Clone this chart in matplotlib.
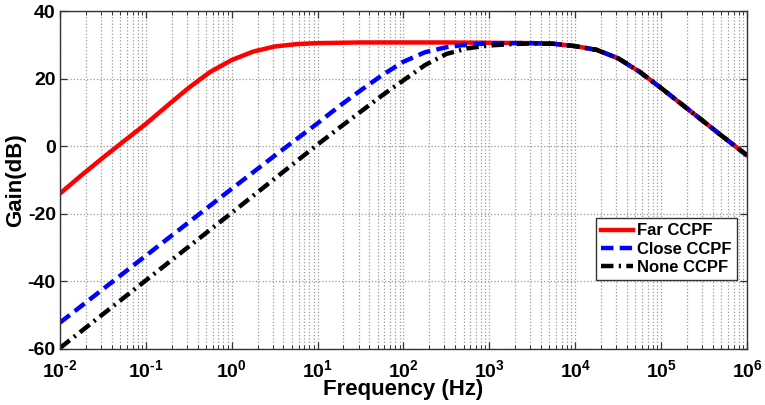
import numpy as np
import matplotlib
matplotlib.use('Agg')
import matplotlib.pyplot as plt
from matplotlib.ticker import LogLocator, FixedLocator, FuncFormatter

plt.rcParams['font.family'] = ['Liberation Sans', 'DejaVu Sans']
plt.rcParams['font.weight'] = 'bold'
plt.rcParams['axes.unicode_minus'] = False
plt.rcParams['mathtext.fontset'] = 'custom'
plt.rcParams['mathtext.rm'] = 'Liberation Sans:bold'
plt.rcParams['mathtext.it'] = 'Liberation Sans:bold'
plt.rcParams['mathtext.bf'] = 'Liberation Sans:bold'
plt.rcParams['mathtext.default'] = 'bf'

# log10 of frequency (Hz) and gain (dB)
far_logf = [-2.0, -1.75, -1.5, -1.25, -1.0, -0.75, -0.5, -0.25, 0.0, 0.25, 0.5, 0.75,
            1.0, 1.5, 2.0, 2.5, 3.0, 3.5]
far_gain = [-14.0, -8.6, -3.4, 1.6, 6.6, 12.0, 17.3, 22.0, 25.5, 28.0, 29.5, 30.2,
            30.5, 30.7, 30.7, 30.7, 30.6, 30.5]

close_logf = [-2.0, -1.5, -1.0, -0.5, 0.0, 0.5, 1.0, 1.25, 1.5, 1.75, 2.0, 2.25,
              2.5, 2.75, 3.0, 3.25, 3.5]
close_gain = [-52.2, -42.3, -32.4, -22.5, -12.6, -2.8, 6.8, 11.8, 16.5, 21.0, 25.0, 27.8,
              29.3, 30.1, 30.4, 30.5, 30.5]

none_logf = [-2.0, -1.5, -1.0, -0.5, 0.0, 0.5, 1.0, 1.25, 1.5, 1.75, 2.0, 2.25,
             2.5, 2.75, 3.0, 3.25, 3.5]
none_gain = [-59.7, -49.7, -39.7, -29.7, -19.7, -9.6, 0.5, 5.4, 10.2, 15.0, 19.5, 24.0,
             27.3, 29.0, 29.8, 30.2, 30.4]

# high-frequency roll-off shared by all three curves
tail_logf = [3.75, 4.0, 4.25, 4.5, 4.75, 5.0, 5.25, 5.5, 5.75, 6.0]
tail_gain = [30.3, 29.6, 28.5, 26.0, 22.0, 17.2, 12.2, 7.2, 2.2, -2.7]

labels = ['Far CCPF', 'Close CCPF', 'None CCPF']
y_ticks = [-60, -40, -20, 0, 20, 40]


def full(logf, gain):
    f = 10 ** np.array(logf + tail_logf)
    return f, np.array(gain + tail_gain)


def dec_label(v, pos):
    e = int(round(np.log10(v)))
    sign = r'\text{-}' if e < 0 else ''
    return r'$\mathbf{10^{%s%d}}$' % (sign, abs(e))


fig = plt.figure(figsize=(7.65, 4.05), dpi=100)
ax = fig.add_axes([0.0784, 0.1383, 0.8981, 0.8345])

f, g = full(far_logf, far_gain)
ax.plot(f, g, color='#ff0000', lw=3.2, label=labels[0])
f, g = full(close_logf, close_gain)
ax.plot(f, g, color='#0000ff', lw=3.2, dashes=(2.8, 1.4), label=labels[1])
f, g = full(none_logf, none_gain)
ax.plot(f, g, color='black', lw=3.2, dashes=(2.8, 1.2, 0.5, 1.2), label=labels[2])

ax.set_xscale('log')
ax.set_xlim(1e-2, 1e6)
ax.set_ylim(-60, 40)
ax.xaxis.set_major_locator(LogLocator(base=10, numticks=20))
ax.xaxis.set_minor_locator(LogLocator(base=10, subs=np.arange(2, 10), numticks=20))
ax.xaxis.set_major_formatter(FuncFormatter(dec_label))
ax.yaxis.set_major_locator(FixedLocator(y_ticks))

ax.tick_params(axis='both', which='both', direction='in', top=True, right=True,
               colors='#333333', labelcolor='black')
ax.tick_params(axis='both', which='major', length=5, width=0.9)
ax.tick_params(axis='y', which='major', labelsize=14, pad=3)
ax.tick_params(axis='x', which='major', labelsize=14, pad=7)
ax.tick_params(axis='x', which='minor', length=3, width=0.7)

ax.grid(True, which='both', axis='x', color='#9a9a9a', linestyle=':', linewidth=0.9)
ax.grid(True, which='major', axis='y', color='#9a9a9a', linestyle=':', linewidth=0.9)
for s in ax.spines.values():
    s.set_color('#333333')
    s.set_linewidth(1.0)

ax.set_xlabel('Frequency (Hz)', fontsize=16, fontweight='bold', labelpad=-1)
ax.set_ylabel('Gain(dB)', fontsize=16, fontweight='bold', labelpad=1)

leg = ax.legend(loc='lower right', bbox_to_anchor=(0.985, 0.204), fontsize=12,
                fancybox=False, framealpha=1, edgecolor='#333333', handlelength=1.9,
                handletextpad=0.25, borderpad=0.3, labelspacing=0.2, borderaxespad=0)
leg.get_frame().set_linewidth(1.0)
for t in leg.get_texts():
    t.set_fontweight('bold')

fig.savefig('out.png', dpi=100)
